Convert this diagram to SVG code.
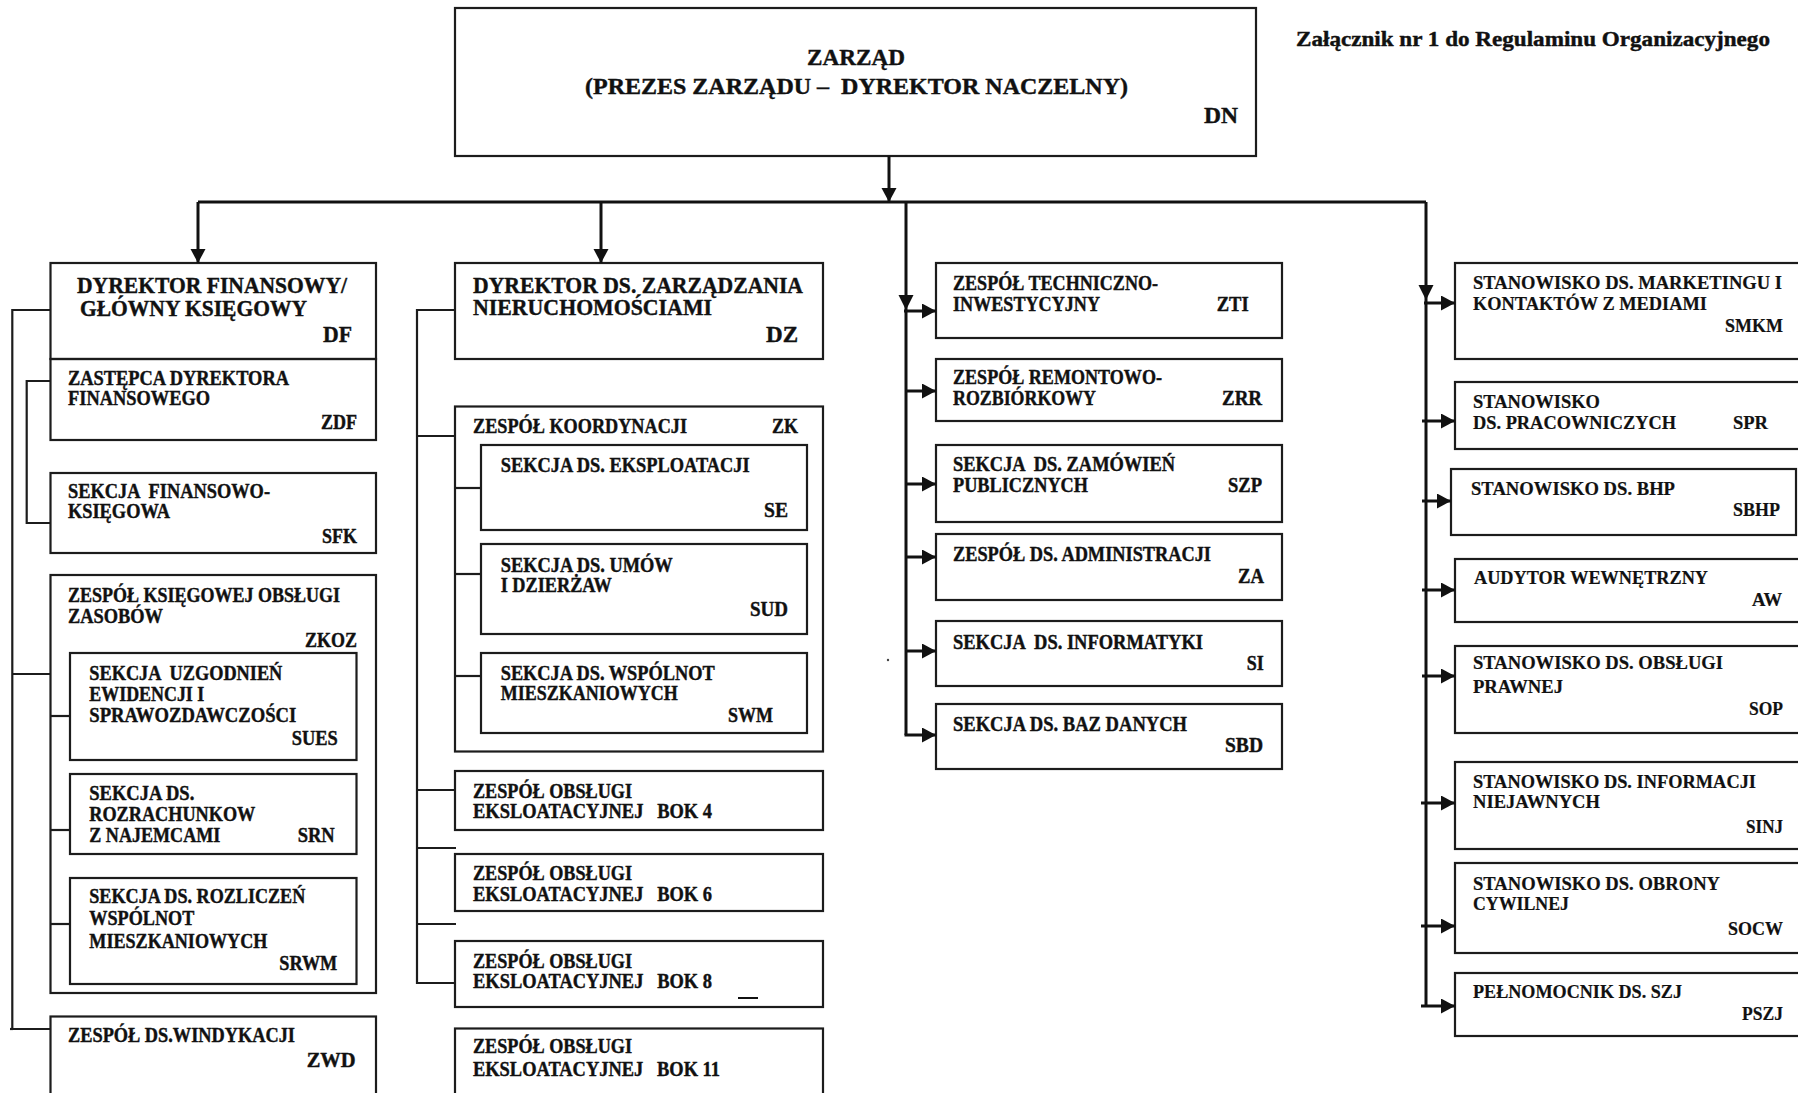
<svg xmlns="http://www.w3.org/2000/svg" width="1798" height="1093" viewBox="0 0 1798 1093">
<style>
.box{fill:none;stroke:#1c1c1c;stroke-width:2.2}
.t{font-family:"Liberation Serif","DejaVu Serif",serif;font-weight:700;font-size:20px;fill:#111;stroke:#111;stroke-width:0.4;white-space:pre}
.h{font-size:23px}
.r{font-size:19px;stroke-width:0.2}
.ln{stroke:#111;stroke-width:3;fill:none}
.ln2{stroke:#1c1c1c;stroke-width:2.2;fill:none}
.ah{fill:#111}
</style>
<defs>
<marker id="arr" markerUnits="userSpaceOnUse" markerWidth="16" markerHeight="16" refX="14" refY="7.5" orient="auto">
<path d="M0,0 L14,7.5 L0,15 z" fill="#111"/>
</marker>
</defs>
<rect x="0" y="0" width="1798" height="1093" fill="#fff"/>

<text class="t" x="1296" y="46" textLength="474" lengthAdjust="spacingAndGlyphs">Załącznik nr 1 do Regulaminu Organizacyjnego</text>

<g id="DN">
<rect class="box" x="455" y="8" width="801" height="148"/>
<text class="t h" x="807" y="64.5" textLength="98" lengthAdjust="spacingAndGlyphs">ZARZĄD</text>
<text class="t h" x="585" y="93.5" textLength="543" lengthAdjust="spacingAndGlyphs">(PREZES ZARZĄDU –  DYREKTOR NACZELNY)</text>
<text class="t h" x="1204" y="123" textLength="34" lengthAdjust="spacingAndGlyphs">DN</text>
</g>

<!-- left column -->
<g id="DF">
<rect class="box" x="50.5" y="263" width="325.5" height="96"/>
<text class="t h" x="77" y="292.7" textLength="270" lengthAdjust="spacingAndGlyphs">DYREKTOR FINANSOWY/</text>
<text class="t h" x="80" y="315.7" textLength="227" lengthAdjust="spacingAndGlyphs">GŁÓWNY KSIĘGOWY</text>
<text class="t h" x="323" y="341.7" textLength="29" lengthAdjust="spacingAndGlyphs">DF</text>
</g>
<g id="ZDF">
<rect class="box" x="50.5" y="359" width="325.5" height="81"/>
<text class="t" x="68" y="385" textLength="221" lengthAdjust="spacingAndGlyphs">ZASTĘPCA DYREKTORA</text>
<text class="t" x="68" y="405" textLength="142" lengthAdjust="spacingAndGlyphs">FINANSOWEGO</text>
<text class="t" x="321" y="429" textLength="36" lengthAdjust="spacingAndGlyphs">ZDF</text>
</g>
<g id="SFK">
<rect class="box" x="50.5" y="473" width="325.5" height="80"/>
<text class="t" x="68" y="498" textLength="202" lengthAdjust="spacingAndGlyphs">SEKCJA  FINANSOWO-</text>
<text class="t" x="68" y="518" textLength="102" lengthAdjust="spacingAndGlyphs">KSIĘGOWA</text>
<text class="t" x="322" y="543" textLength="35" lengthAdjust="spacingAndGlyphs">SFK</text>
</g>
<g id="ZKOZ">
<rect class="box" x="50.5" y="575" width="325.5" height="418"/>
<text class="t" x="68" y="601.5" textLength="272" lengthAdjust="spacingAndGlyphs">ZESPÓŁ KSIĘGOWEJ OBSŁUGI</text>
<text class="t" x="68" y="622.5" textLength="95" lengthAdjust="spacingAndGlyphs">ZASOBÓW</text>
<text class="t" x="305" y="646.5" textLength="52" lengthAdjust="spacingAndGlyphs">ZKOZ</text>
</g>
<g id="SUES">
<rect class="box" x="70" y="653" width="286.5" height="107"/>
<text class="t" x="89.3" y="679.5" textLength="193" lengthAdjust="spacingAndGlyphs">SEKCJA  UZGODNIEŃ</text>
<text class="t" x="89.3" y="700.5" textLength="115" lengthAdjust="spacingAndGlyphs">EWIDENCJI I</text>
<text class="t" x="89.3" y="721.5" textLength="207" lengthAdjust="spacingAndGlyphs">SPRAWOZDAWCZOŚCI</text>
<text class="t" x="291.7" y="745" textLength="46" lengthAdjust="spacingAndGlyphs">SUES</text>
</g>
<g id="SRN">
<rect class="box" x="70" y="774" width="286.5" height="80"/>
<text class="t" x="89.3" y="799.5" textLength="105" lengthAdjust="spacingAndGlyphs">SEKCJA DS.</text>
<text class="t" x="89.3" y="820.7" textLength="166" lengthAdjust="spacingAndGlyphs">ROZRACHUNKOW</text>
<text class="t" x="89.3" y="842" textLength="131" lengthAdjust="spacingAndGlyphs">Z NAJEMCAMI</text>
<text class="t" x="297.7" y="842" textLength="37" lengthAdjust="spacingAndGlyphs">SRN</text>
</g>
<g id="SRWM">
<rect class="box" x="70" y="878" width="286.5" height="106"/>
<text class="t" x="89.3" y="903.3" textLength="216" lengthAdjust="spacingAndGlyphs">SEKCJA DS. ROZLICZEŃ</text>
<text class="t" x="89.3" y="925.4" textLength="105" lengthAdjust="spacingAndGlyphs">WSPÓLNOT</text>
<text class="t" x="89.3" y="947.5" textLength="178" lengthAdjust="spacingAndGlyphs">MIESZKANIOWYCH</text>
<text class="t" x="279.3" y="970.3" textLength="58" lengthAdjust="spacingAndGlyphs">SRWM</text>
</g>
<g id="ZWD">
<rect class="box" x="50.5" y="1016.5" width="325.5" height="100"/>
<text class="t" x="68" y="1042" textLength="227" lengthAdjust="spacingAndGlyphs">ZESPÓŁ DS.WINDYKACJI</text>
<text class="t" x="306.7" y="1066.5" textLength="49" lengthAdjust="spacingAndGlyphs">ZWD</text>
</g>

<!-- DZ column -->
<g id="DZ">
<rect class="box" x="455" y="263" width="368" height="96"/>
<text class="t h" x="473" y="292.7" textLength="330" lengthAdjust="spacingAndGlyphs">DYREKTOR DS. ZARZĄDZANIA</text>
<text class="t h" x="473" y="315" textLength="239" lengthAdjust="spacingAndGlyphs">NIERUCHOMOŚCIAMI</text>
<text class="t h" x="766" y="341.7" textLength="32" lengthAdjust="spacingAndGlyphs">DZ</text>
</g>
<g id="ZK">
<rect class="box" x="455" y="406.5" width="368" height="345"/>
<text class="t" x="473" y="433.3" textLength="214" lengthAdjust="spacingAndGlyphs">ZESPÓŁ KOORDYNACJI</text>
<text class="t" x="772" y="433.3" textLength="26" lengthAdjust="spacingAndGlyphs">ZK</text>
</g>
<g id="SE">
<rect class="box" x="481" y="445" width="326" height="85"/>
<text class="t" x="500.7" y="471.7" textLength="249" lengthAdjust="spacingAndGlyphs">SEKCJA DS. EKSPLOATACJI</text>
<text class="t" x="764" y="516.7" textLength="24" lengthAdjust="spacingAndGlyphs">SE</text>
</g>
<g id="SUD">
<rect class="box" x="481" y="544" width="326" height="90"/>
<text class="t" x="500.7" y="571.7" textLength="172" lengthAdjust="spacingAndGlyphs">SEKCJA DS. UMÓW</text>
<text class="t" x="500.7" y="591.7" textLength="111" lengthAdjust="spacingAndGlyphs">I DZIERŻAW</text>
<text class="t" x="750" y="616" textLength="38" lengthAdjust="spacingAndGlyphs">SUD</text>
</g>
<g id="SWM">
<rect class="box" x="481" y="653" width="326" height="80"/>
<text class="t" x="500.7" y="680" textLength="214" lengthAdjust="spacingAndGlyphs">SEKCJA DS. WSPÓLNOT</text>
<text class="t" x="500.7" y="700" textLength="177" lengthAdjust="spacingAndGlyphs">MIESZKANIOWYCH</text>
<text class="t" x="728" y="721.7" textLength="45" lengthAdjust="spacingAndGlyphs">SWM</text>
</g>
<g id="BOK4">
<rect class="box" x="455" y="771" width="368" height="59"/>
<text class="t" x="473" y="798.3" textLength="159" lengthAdjust="spacingAndGlyphs">ZESPÓŁ OBSŁUGI</text>
<text class="t" x="473" y="818.3" textLength="239" lengthAdjust="spacingAndGlyphs">EKSLOATACYJNEJ   BOK 4</text>
</g>
<g id="BOK6">
<rect class="box" x="455" y="854" width="368" height="57"/>
<text class="t" x="473" y="880" textLength="159" lengthAdjust="spacingAndGlyphs">ZESPÓŁ OBSŁUGI</text>
<text class="t" x="473" y="900.7" textLength="239" lengthAdjust="spacingAndGlyphs">EKSLOATACYJNEJ   BOK 6</text>
</g>
<g id="BOK8">
<rect class="box" x="455" y="941" width="368" height="66"/>
<text class="t" x="473" y="967.7" textLength="159" lengthAdjust="spacingAndGlyphs">ZESPÓŁ OBSŁUGI</text>
<text class="t" x="473" y="988.3" textLength="239" lengthAdjust="spacingAndGlyphs">EKSLOATACYJNEJ   BOK 8</text>
<line x1="738" y1="998" x2="758" y2="998" stroke="#111" stroke-width="2"/>
</g>
<g id="BOK11">
<rect class="box" x="455" y="1028.5" width="368" height="100"/>
<text class="t" x="473" y="1052.7" textLength="159" lengthAdjust="spacingAndGlyphs">ZESPÓŁ OBSŁUGI</text>
<text class="t" x="473" y="1076" textLength="247" lengthAdjust="spacingAndGlyphs">EKSLOATACYJNEJ   BOK 11</text>
</g>

<!-- center column -->
<g id="ZTI">
<rect class="box" x="936" y="263" width="346" height="75"/>
<text class="t" x="953" y="290" textLength="205" lengthAdjust="spacingAndGlyphs">ZESPÓŁ TECHNICZNO-</text>
<text class="t" x="953" y="310.5" textLength="147" lengthAdjust="spacingAndGlyphs">INWESTYCYJNY</text>
<text class="t" x="1216.7" y="310.5" textLength="32" lengthAdjust="spacingAndGlyphs">ZTI</text>
</g>
<g id="ZRR">
<rect class="box" x="936" y="359" width="346" height="62"/>
<text class="t" x="953" y="383.5" textLength="209" lengthAdjust="spacingAndGlyphs">ZESPÓŁ REMONTOWO-</text>
<text class="t" x="953" y="405" textLength="143" lengthAdjust="spacingAndGlyphs">ROZBIÓRKOWY</text>
<text class="t" x="1222" y="405" textLength="40" lengthAdjust="spacingAndGlyphs">ZRR</text>
</g>
<g id="SZP">
<rect class="box" x="936" y="445" width="346" height="77"/>
<text class="t" x="953" y="471" textLength="222" lengthAdjust="spacingAndGlyphs">SEKCJA  DS. ZAMÓWIEŃ</text>
<text class="t" x="953" y="492.3" textLength="135" lengthAdjust="spacingAndGlyphs">PUBLICZNYCH</text>
<text class="t" x="1228" y="492.3" textLength="34" lengthAdjust="spacingAndGlyphs">SZP</text>
</g>
<g id="ZA">
<rect class="box" x="936" y="534" width="346" height="66"/>
<text class="t" x="953" y="561" textLength="258" lengthAdjust="spacingAndGlyphs">ZESPÓŁ DS. ADMINISTRACJI</text>
<text class="t" x="1238" y="583" textLength="26" lengthAdjust="spacingAndGlyphs">ZA</text>
</g>
<g id="SI">
<rect class="box" x="936" y="621" width="346" height="65"/>
<text class="t" x="953" y="648.5" textLength="250" lengthAdjust="spacingAndGlyphs">SEKCJA  DS. INFORMATYKI</text>
<text class="t" x="1246.7" y="670" textLength="17" lengthAdjust="spacingAndGlyphs">SI</text>
</g>
<g id="SBD">
<rect class="box" x="936" y="704" width="346" height="65"/>
<text class="t" x="953" y="730.7" textLength="234" lengthAdjust="spacingAndGlyphs">SEKCJA DS. BAZ DANYCH</text>
<text class="t" x="1225" y="752" textLength="38" lengthAdjust="spacingAndGlyphs">SBD</text>
</g>

<!-- right column -->
<g id="SMKM">
<rect class="box" x="1455" y="263" width="360" height="96"/>
<text class="t r" x="1473" y="289" textLength="309" lengthAdjust="spacingAndGlyphs">STANOWISKO DS. MARKETINGU I</text>
<text class="t r" x="1473" y="310" textLength="234" lengthAdjust="spacingAndGlyphs">KONTAKTÓW Z MEDIAMI</text>
<text class="t r" x="1725" y="331.7" textLength="58" lengthAdjust="spacingAndGlyphs">SMKM</text>
</g>
<g id="SPR">
<rect class="box" x="1455" y="382" width="360" height="67"/>
<text class="t r" x="1473" y="407.7" textLength="127" lengthAdjust="spacingAndGlyphs">STANOWISKO</text>
<text class="t r" x="1473" y="429" textLength="203" lengthAdjust="spacingAndGlyphs">DS. PRACOWNICZYCH</text>
<text class="t r" x="1733" y="429" textLength="35" lengthAdjust="spacingAndGlyphs">SPR</text>
</g>
<g id="SBHP">
<rect class="box" x="1451" y="469" width="345" height="66"/>
<text class="t r" x="1471" y="495" textLength="204" lengthAdjust="spacingAndGlyphs">STANOWISKO DS. BHP</text>
<text class="t r" x="1733" y="516" textLength="47" lengthAdjust="spacingAndGlyphs">SBHP</text>
</g>
<g id="AW">
<rect class="box" x="1455" y="559" width="360" height="63"/>
<text class="t r" x="1474" y="584.3" textLength="234" lengthAdjust="spacingAndGlyphs">AUDYTOR WEWNĘTRZNY</text>
<text class="t r" x="1752" y="606" textLength="30" lengthAdjust="spacingAndGlyphs">AW</text>
</g>
<g id="SOP">
<rect class="box" x="1455" y="646" width="360" height="87"/>
<text class="t r" x="1473" y="669.3" textLength="250" lengthAdjust="spacingAndGlyphs">STANOWISKO DS. OBSŁUGI</text>
<text class="t r" x="1473" y="693.3" textLength="90" lengthAdjust="spacingAndGlyphs">PRAWNEJ</text>
<text class="t r" x="1749" y="715" textLength="34" lengthAdjust="spacingAndGlyphs">SOP</text>
</g>
<g id="SINJ">
<rect class="box" x="1455" y="762" width="360" height="87"/>
<text class="t r" x="1473" y="788.3" textLength="283" lengthAdjust="spacingAndGlyphs">STANOWISKO DS. INFORMACJI</text>
<text class="t r" x="1473" y="808.3" textLength="127" lengthAdjust="spacingAndGlyphs">NIEJAWNYCH</text>
<text class="t r" x="1746" y="833.3" textLength="37" lengthAdjust="spacingAndGlyphs">SINJ</text>
</g>
<g id="SOCW">
<rect class="box" x="1455" y="863" width="360" height="90"/>
<text class="t r" x="1473" y="890" textLength="247" lengthAdjust="spacingAndGlyphs">STANOWISKO DS. OBRONY</text>
<text class="t r" x="1473" y="910" textLength="96" lengthAdjust="spacingAndGlyphs">CYWILNEJ</text>
<text class="t r" x="1728" y="935" textLength="55" lengthAdjust="spacingAndGlyphs">SOCW</text>
</g>
<g id="PSZJ">
<rect class="box" x="1455" y="973" width="360" height="63"/>
<text class="t r" x="1473" y="998.3" textLength="209" lengthAdjust="spacingAndGlyphs">PEŁNOMOCNIK DS. SZJ</text>
<text class="t r" x="1742" y="1020" textLength="41" lengthAdjust="spacingAndGlyphs">PSZJ</text>
</g>

<g id="connectors">
<!-- main tree -->
<line class="ln" x1="889" y1="156" x2="889" y2="202" marker-end="url(#arr)"/>
<line class="ln" x1="198" y1="202" x2="1426" y2="202"/>
<line class="ln" x1="198" y1="202" x2="198" y2="263" marker-end="url(#arr)"/>
<line class="ln" x1="601" y1="202" x2="601" y2="263" marker-end="url(#arr)"/>
<line class="ln" x1="906" y1="202" x2="906" y2="735"/>
<polygon class="ah" points="898.5,295 913.5,295 906,310"/>
<line class="ln" x1="1426" y1="202" x2="1426" y2="1006"/>
<polygon class="ah" points="1418.5,285 1433.5,285 1426,300"/>
<!-- center arrows -->
<line class="ln" x1="904" y1="311" x2="936" y2="311" marker-end="url(#arr)"/>
<line class="ln" x1="906" y1="391" x2="936" y2="391" marker-end="url(#arr)"/>
<line class="ln" x1="906" y1="484" x2="936" y2="484" marker-end="url(#arr)"/>
<line class="ln" x1="906" y1="557" x2="936" y2="557" marker-end="url(#arr)"/>
<line class="ln" x1="906" y1="651" x2="936" y2="651" marker-end="url(#arr)"/>
<line class="ln" x1="904.5" y1="735" x2="936" y2="735" marker-end="url(#arr)"/>
<!-- right arrows -->
<line class="ln" x1="1424" y1="303" x2="1455" y2="303" marker-end="url(#arr)"/>
<line class="ln" x1="1422" y1="421" x2="1455" y2="421" marker-end="url(#arr)"/>
<line class="ln" x1="1422" y1="501" x2="1451" y2="501" marker-end="url(#arr)"/>
<line class="ln" x1="1422" y1="590" x2="1455" y2="590" marker-end="url(#arr)"/>
<line class="ln" x1="1422" y1="676" x2="1455" y2="676" marker-end="url(#arr)"/>
<line class="ln" x1="1421" y1="803" x2="1455" y2="803" marker-end="url(#arr)"/>
<line class="ln" x1="1421" y1="926" x2="1455" y2="926" marker-end="url(#arr)"/>
<line class="ln" x1="1421" y1="1006" x2="1455" y2="1006" marker-end="url(#arr)"/>
<!-- left column -->
<polyline class="ln2" points="50.5,310 12.3,310 12.3,1029 50.5,1029"/>
<line class="ln2" x1="10" y1="1029" x2="13" y2="1029"/>
<line class="ln2" x1="12.3" y1="674" x2="50.5" y2="674"/>
<polyline class="ln2" points="50.5,381 26.7,381 26.7,523 50.5,523"/>
<line class="ln2" x1="50.5" y1="716" x2="70" y2="716"/>
<line class="ln2" x1="50.5" y1="830" x2="70" y2="830"/>
<line class="ln2" x1="50.5" y1="924" x2="70" y2="924"/>
<!-- DZ column -->
<polyline class="ln2" points="455,310 417,310 417,983 455,983"/>
<line class="ln2" x1="417" y1="436" x2="455" y2="436"/>
<line class="ln2" x1="417" y1="790" x2="455" y2="790"/>
<line class="ln2" x1="417" y1="848" x2="456" y2="848"/>
<line class="ln2" x1="417" y1="924" x2="456" y2="924"/>
<line class="ln2" x1="455" y1="488" x2="481" y2="488"/>
<line class="ln2" x1="455" y1="574" x2="481" y2="574"/>
<line class="ln2" x1="455" y1="676" x2="481" y2="676"/>
</g>
<circle cx="888" cy="660" r="1.2" fill="#444"/>
</svg>
